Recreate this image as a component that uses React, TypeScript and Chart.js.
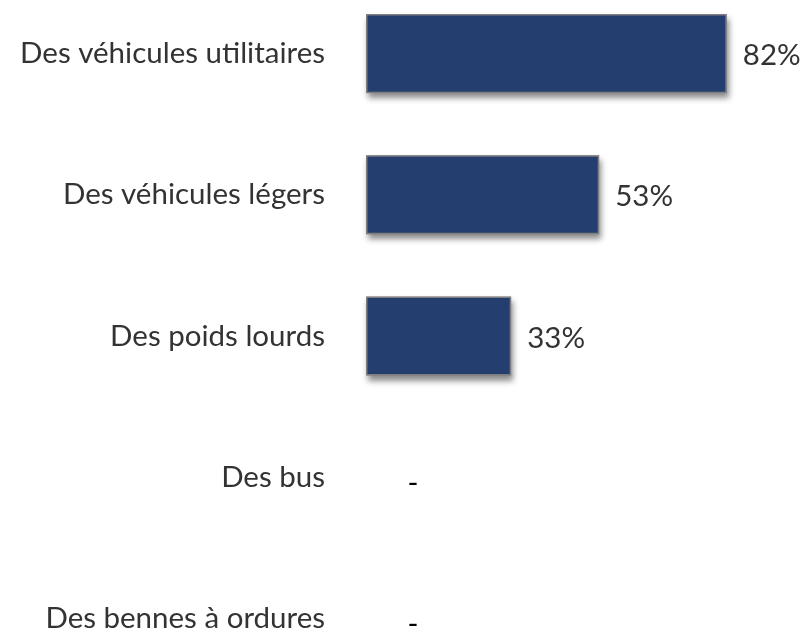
import React, { useEffect, useRef } from "react";
import { Chart, registerables } from "chart.js";

Chart.register(...registerables);

const categories: string[] = [
  "Des véhicules utilitaires",
  "Des véhicules légers",
  "Des poids lourds",
  "Des bus",
  "Des bennes à ordures",
];
const values: number[] = [82, 53, 33, 0, 0];

const FONT = "Lato, 'Open Sans', sans-serif";
const FONT_SIZE = 29.5;

const shadowPlugin = {
  id: "barShadow",
  beforeDatasetDraw(chart: any) {
    const ctx = chart.ctx;
    const meta = chart.getDatasetMeta(0);
    ctx.save();
    ctx.shadowColor = "rgba(0,0,0,0.45)";
    ctx.shadowBlur = 6;
    ctx.shadowOffsetX = 2;
    ctx.shadowOffsetY = 5;
    ctx.fillStyle = "#7f7f7f";
    meta.data.forEach((bar: any, i: number) => {
      if (!(values[i] > 0)) return;
      const { x, y, base, height } = bar.getProps(["x", "y", "base", "height"], true);
      const left = Math.min(x, base);
      const w = Math.abs(x - base);
      ctx.fillRect(left, y - height / 2, w, height);
    });
    ctx.restore();
  },
};

const labelPlugin = {
  id: "valueLabels",
  afterDatasetsDraw(chart: any) {
    const ctx = chart.ctx;
    const meta = chart.getDatasetMeta(0);
    const xScale = chart.scales.x;
    ctx.save();
    ctx.font = `${FONT_SIZE}px ${FONT}`;
    ctx.textBaseline = "middle";
    meta.data.forEach((bar: any, i: number) => {
      const v = values[i];
      if (v > 0) {
        ctx.fillStyle = "#333333";
        ctx.textAlign = "left";
        ctx.fillText(`${v}%`, bar.x + 16, bar.y + 2);
      } else {
        ctx.fillStyle = "#000000";
        ctx.textAlign = "center";
        ctx.fillText("-", xScale.getPixelForValue(0) + 47, bar.y + 6);
      }
    });
    ctx.restore();
  },
};

export default function App() {
  const ref = useRef<HTMLCanvasElement | null>(null);
  useEffect(() => {
    if (!ref.current) return;
    const chart = new Chart(ref.current, {
      type: "bar",
      data: {
        labels: categories,
        datasets: [
          {
            data: values,
            backgroundColor: "#243e6f",
            borderColor: "#7f7f7f",
            borderWidth: 1.5,
            borderSkipped: false,
            categoryPercentage: 0.8,
            barPercentage: 0.7,
          },
        ],
      },
      options: {
        indexAxis: "y",
        animation: false,
        responsive: false,
        maintainAspectRatio: false,
        layout: { padding: { left: 0, right: 6, top: 0, bottom: 0 } },
        plugins: { legend: { display: false }, tooltip: { enabled: false } },
        scales: {
          x: { display: false, min: 0, max: 100 },
          y: {
            grid: { display: false, drawTicks: false },
            border: { display: false },
            ticks: {
              padding: 41,
              color: "#333333",
              font: { family: FONT, size: FONT_SIZE },
            },
            afterFit: (s: any) => {
              s.width = 366;
              s.paddingTop = 0;
              s.paddingBottom = 0;
            },
          },
        },
      },
      plugins: [shadowPlugin, labelPlugin],
    });
    return () => chart.destroy();
  }, []);
  return (
    <div
      style={{
        position: "fixed",
        left: 0,
        top: 0,
        width: 812,
        height: 630,
        overflow: "hidden",
        background: "#fff",
      }}
    >
      <canvas
        ref={ref}
        width={812}
        height={706}
        style={{ display: "block", marginTop: -17 }}
      />
    </div>
  );
}
